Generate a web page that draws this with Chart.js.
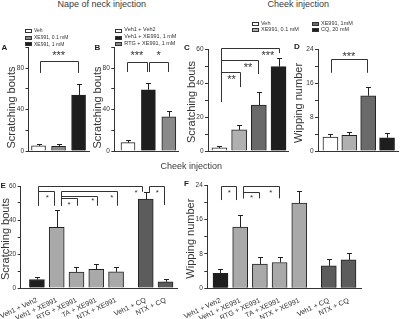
<!DOCTYPE html>
<html><head><meta charset="utf-8">
<script src="https://cdn.jsdelivr.net/npm/chart.js@4.4.1/dist/chart.umd.min.js"></script>
<style>
html,body{margin:0;padding:0;background:#fff;}
#wrap{position:relative;width:400px;height:319px;overflow:hidden;font-family:"Liberation Sans",Arial,sans-serif;color:#333;}
.t{position:absolute;white-space:nowrap;line-height:1;font-size:9px;color:#3a3a3a;}
.lt{position:absolute;white-space:nowrap;line-height:1;color:#333;}
.lb{position:absolute;box-sizing:border-box;border:1px solid #333;}
.L{position:absolute;font-weight:bold;font-size:8px;line-height:1;color:#222;}
</style></head>
<body><div id="wrap"></div>
<script>
// ---------- data ----------
const aLabels = ['Veh', 'XE991, 0.1 mM', 'XE991, 1 mM'];
const aValues = [5, 4.5, 54];
const aSem = [2, 2, 11];
const bLabels = ['Veh1 + Veh2', 'Veh1 + XE991, 1 mM', 'RTG + XE991, 1 mM'];
const bValues = [8, 59, 33];
const bSem = [3, 6.5, 5.5];
const cdLabels = ['Veh', 'XE991, 0.1 mM', 'XE991, 1mM', 'CQ, 20 mM'];
const cValues = [1.8, 12.4, 27, 49.6];
const cSem = [1, 3.1, 7.5, 5.4];
const dValues = [3.3, 3.7, 13, 3.1];
const dSem = [0.7, 0.8, 2, 1.2];
const efLabels = ['Veh1 + Veh2', 'Veh1 + XE991', 'RTG + XE991', 'TA + XE991', 'NTX + XE991', 'Veh1 + CQ', 'NTX + CQ'];
const efGroups = [0, 0, 0, 0, 0, 1, 1];
const eValues = [5, 35.7, 9.4, 11, 9.5, 52.3, 3.6];
const eSem = [1.7, 10.3, 3.1, 3, 3, 4.2, 1.6];
const fValues = [3.5, 14.2, 5.6, 6.0, 19.8, 5.2, 6.6];
const fSem = [0.9, 2.9, 1.6, 1.2, 2.9, 1.6, 1.6];
const abTicks = [0, 40, 80];
const ceTicks = [0, 20, 40, 60];
const dfTicks = [0, 8, 16, 24];

// ---------- styles ----------
const FONT = '"Liberation Sans", Arial, sans-serif';
Chart.defaults.font.family = FONT;
Chart.defaults.color = '#333';
const TICKFS = 6.5;
const WHITE = '#ffffff', BLACK = '#1e1e1e', MID = '#8a8a8a', LIGHT = '#b0b0b0', DARK = '#6a6a6a', LG = '#a9a9a9', DG = '#5c5c5c';
const aColors = [WHITE, MID, BLACK];
const bColors = [WHITE, BLACK, MID];
const cdColors = [WHITE, LIGHT, DARK, BLACK];
const efColors = [BLACK, LG, LG, LG, LG, DG, DG];

const wrap = document.getElementById('wrap');

function addText(cls, txt, x, y, extra) {
  const d = document.createElement('div');
  d.className = cls; d.textContent = txt;
  d.style.left = x + 'px'; d.style.top = y + 'px';
  if (extra) Object.assign(d.style, extra);
  wrap.appendChild(d);
  return d;
}
function centeredText(cls, txt, cx, y) {
  const d = addText(cls, txt, 0, y);
  d.style.left = (cx - d.offsetWidth / 2) + 'px';
}
function legend(labels, colors, bx, tx, ys, fs) {
  labels.forEach((lab, i) => {
    const b = document.createElement('div');
    b.className = 'lb';
    Object.assign(b.style, {left: bx[i] + 'px', top: (ys[i] - 2) + 'px', width: '7px', height: '4px', background: colors[i]});
    wrap.appendChild(b);
    addText('lt', lab, tx[i], ys[i] - fs * 0.55, {fontSize: fs + 'px'});
  });
}

function makePanel(p) {
  const bx = p.box;
  const cv = document.createElement('canvas');
  cv.width = bx.w; cv.height = bx.h;
  cv.style.cssText = `position:absolute;left:${bx.left}px;top:${bx.top}px;width:${bx.w}px;height:${bx.h}px`;
  wrap.appendChild(cv);
  const groups = p.groups || p.values.map(() => 0);
  const pos = i => i + groups[i] * 0.5;
  const positions = p.values.map((v, i) => pos(i));
  const snap = v => Math.round(v) + 0.5;

  const overlay = {
    id: 'overlay',
    afterDatasetsDraw(chart) {
      const ctx = chart.ctx, ys = chart.scales.y;
      const meta = chart.getDatasetMeta(0);
      ctx.save();
      ctx.strokeStyle = '#222'; ctx.lineWidth = 1;
      meta.data.forEach((bar, i) => {
        const x = snap(bar.x);
        const yTop = snap(ys.getPixelForValue(p.values[i] + p.sem[i]));
        const yBar = ys.getPixelForValue(p.values[i]);
        ctx.beginPath();
        ctx.moveTo(x, yBar); ctx.lineTo(x, yTop);
        ctx.moveTo(x - 2.5, yTop); ctx.lineTo(x + 2.5, yTop);
        ctx.stroke();
      });
      ctx.restore();
    },
    afterDraw(chart) {
      const ctx = chart.ctx, xs = chart.scales.x, ys = chart.scales.y;
      const px = a => xs.getPixelForValue(pos(a[0]) + a[1]);
      ctx.save();
      ctx.strokeStyle = '#333'; ctx.lineWidth = 1;
      p.brackets.forEach(b => {
        const x1 = snap(px(b.l)), x2 = snap(px(b.r));
        const y = snap(ys.getPixelForValue(b.y));
        ctx.beginPath();
        ctx.moveTo(x1, ys.getPixelForValue(b.dl)); ctx.lineTo(x1, y);
        ctx.lineTo(x2, y); ctx.lineTo(x2, ys.getPixelForValue(b.dr));
        ctx.stroke();
      });
      ctx.fillStyle = '#333';
      ctx.font = p.starSize + 'px ' + FONT;
      ctx.textAlign = 'center'; ctx.textBaseline = 'alphabetic';
      p.brackets.forEach(b => {
        ctx.fillText(b.s, px(b.sx), ys.getPixelForValue(b.sy) + 0.575 * p.starSize);
      });
      // y axis title
      ctx.font = '11px ' + FONT;
      ctx.textBaseline = 'middle';
      ctx.translate(chart.chartArea.left - p.titleOff, ys.getPixelForValue(p.titleMid) + p.titleDy);
      ctx.rotate(-Math.PI / 2);
      ctx.fillText(p.yTitle, 0, 0);
      ctx.restore();
    }
  };

  new Chart(cv, {
    type: 'bar',
    data: {
      datasets: [{
        data: p.values.map((v, i) => ({x: positions[i], y: v})),
        backgroundColor: p.colors,
        borderColor: '#222',
        borderWidth: 1,
        barThickness: p.bw
      }]
    },
    options: {
      responsive: false, animation: false, devicePixelRatio: 1,
      layout: {padding: {left: 0, right: bx.left + bx.w - bx.right, top: bx.topY - bx.top, bottom: 0}},
      plugins: {legend: {display: false}, tooltip: {enabled: false}, title: {display: false}},
      scales: {
        x: {
          type: 'linear', min: p.xmin, max: p.xmax, bounds: 'data', offset: false,
          afterFit: s => { s.height = bx.top + bx.h - bx.zeroY; },
          afterBuildTicks: s => { s.ticks = positions.map(v => ({value: v})); },
          grid: {display: false, offset: false},
          border: {display: true, color: '#333', width: 1},
          ticks: {
            display: !!p.xLabels, autoSkip: false, minRotation: 25, maxRotation: 25,
            font: {size: 7, family: FONT}, color: '#333', padding: 0,
            callback: (v, i) => p.xLabels ? p.xLabels[i] : ''
          }
        },
        y: {
          min: 0, max: p.ymax,
          afterFit: s => { s.width = bx.axisX - bx.left; },
          grid: {drawOnChartArea: false, drawTicks: true, tickLength: 3, color: '#333'},
          border: {display: true, color: '#333', width: 1},
          ticks: {
            stepSize: p.step, autoSkip: false, padding: 1.5,
            font: {size: TICKFS, family: FONT}, color: '#333',
            callback: v => p.yTicks.includes(v) ? String(v) : ''
          }
        }
      }
    },
    plugins: [overlay]
  });
}

// ---------- panels ----------
makePanel({
  box: {left: 0, top: 15, w: 92, h: 145, axisX: 28.5, right: 89, topY: 47.25, zeroY: 151},
  values: aValues, sem: aSem, colors: aColors, bw: 14, xmin: -0.5, xmax: 2.52,
  ymax: 100, step: 20, yTicks: abTicks, yTitle: 'Scratching bouts', titleOff: 17, titleMid: 40, titleDy: -2,
  starSize: 11,
  brackets: [{l: [0, 0.05], r: [2, -0.03], y: 86.7, dl: 75.2, dr: 75.2, s: '***', sx: [1, 0], sy: 94.5}]
});
makePanel({
  box: {left: 92, top: 15, w: 88, h: 145, axisX: 114.3, right: 178, topY: 47.25, zeroY: 151},
  values: bValues, sem: bSem, colors: bColors, bw: 14, xmin: -0.67, xmax: 2.45,
  ymax: 100, step: 20, yTicks: abTicks, yTitle: 'Scratching bouts', titleOff: 16, titleMid: 40, titleDy: -2,
  starSize: 11,
  brackets: [
    {l: [0, -0.05], r: [1, -0.07], y: 85.8, dl: 76.1, dr: 76.1, s: '***', sx: [0, 0.44], sy: 94.5},
    {l: [1, 0.03], r: [2, -0.04], y: 85.8, dl: 76.1, dr: 76.1, s: '*', sx: [1, 0.5], sy: 94.5}
  ]
});
makePanel({
  box: {left: 185, top: 15, w: 105, h: 145, axisX: 208, right: 288, topY: 49, zeroY: 151},
  values: cValues, sem: cSem, colors: cdColors, bw: 15, xmin: -0.58, xmax: 3.48,
  ymax: 60, step: 10, yTicks: ceTicks, yTitle: 'Scratching bouts', titleOff: 16, titleMid: 30, titleDy: 2,
  starSize: 11,
  brackets: [
    {l: [0, 0.08], r: [3, 0], y: 60.8, dl: 28.8, dr: 57.6, s: '***', sx: [2, 0.46], sy: 57.8},
    {l: [0, 0.08], r: [2, -0.05], y: 53.5, dl: 28.8, dr: 45.3, s: '**', sx: [1, 0.45], sy: 50.6},
    {l: [0, 0.08], r: [1, 0.05], y: 46.6, dl: 28.8, dr: 37.6, s: '**', sx: [0, 0.61], sy: 43.7}
  ]
});
makePanel({
  box: {left: 290, top: 15, w: 110, h: 145, axisX: 318, right: 398, topY: 49, zeroY: 151},
  values: dValues, sem: dSem, colors: cdColors, bw: 15, xmin: -0.66, xmax: 3.58,
  ymax: 24, step: 4, yTicks: dfTicks, yTitle: 'Wipping number', titleOff: 19, titleMid: 12, titleDy: 3,
  starSize: 11,
  brackets: [{l: [0, 0.03], r: [2, -0.08], y: 21.6, dl: 18.4, dr: 18.4, s: '***', sx: [0, 0.98], sy: 22.8}]
});
makePanel({
  box: {left: -6, top: 175, w: 188, h: 144, axisX: 20.7, right: 177, topY: 186, zeroY: 288},
  values: eValues, sem: eSem, colors: efColors, groups: efGroups, xLabels: efLabels, bw: 15,
  xmin: -0.82, xmax: 7.08,
  ymax: 60, step: 10, yTicks: ceTicks, yTitle: 'Scratching bouts', titleOff: 14.7, titleMid: 30, titleDy: 2,
  starSize: 8,
  brackets: [
    {l: [0, 0.07], r: [5, -0.2], y: 60.2, dl: 48.4, dr: 56.6, s: '*', sx: [5, -0.49], sy: 57.2},
    {l: [0, 0.07], r: [1, -0.14], y: 57.2, dl: 48.4, dr: 48.4, s: '*', sx: [0, 0.52], sy: 54.7},
    {l: [1, 0.2], r: [4, 0.03], y: 57.1, dl: 48.4, dr: 48.4, s: '*', sx: [3, 0.79], sy: 54.3},
    {l: [1, 0.2], r: [3, 0.02], y: 54.3, dl: 48.4, dr: 48.4, s: '*', sx: [2, 0.82], sy: 52.8},
    {l: [1, 0.2], r: [2, 0.01], y: 52.9, dl: 48.4, dr: 48.4, s: '*', sx: [1, 0.63], sy: 50.6},
    {l: [5, 0.17], r: [6, -0.06], y: 60.2, dl: 55.9, dr: 48.8, s: '*', sx: [5, 0.58], sy: 57.2}
  ]
});
makePanel({
  box: {left: 176, top: 175, w: 224, h: 144, axisX: 207.3, right: 361.7, topY: 185, zeroY: 288.3},
  values: fValues, sem: fSem, colors: efColors, groups: efGroups, xLabels: efLabels, bw: 15,
  xmin: -0.67, xmax: 7.17,
  ymax: 24, step: 4, yTicks: dfTicks, yTitle: 'Wipping number', titleOff: 16.6, titleMid: 12, titleDy: 2,
  starSize: 8,
  brackets: [
    {l: [0, 0.03], r: [1, -0.21], y: 23.84, dl: 20.5, dr: 20.5, s: '*', sx: [0, 0.45], sy: 22.8},
    {l: [1, 0.16], r: [3, -0.01], y: 23.84, dl: 20.9, dr: 20.9, s: '*', sx: [2, 0.56], sy: 22.8},
    {l: [1, 0.16], r: [2, -0.03], y: 22.44, dl: 20.9, dr: 20.9, s: '*', sx: [1, 0.58], sy: 21.5}
  ]
});

// ---------- titles, legends, letters ----------
centeredText('t', 'Nape of neck injection', 102, 0);
centeredText('t', 'Cheek injection', 298.5, 0);
centeredText('t', 'Cheek injection', 191.5, 161.5);

legend(aLabels, aColors, [25, 25, 25], [34, 34, 34], [30.5, 37.5, 44.3], 5);
legend(bLabels, bColors, [115, 115, 115], [124.3, 124.3, 124.3], [30.5, 37.5, 44.3], 5.5);
legend(cdLabels, cdColors, [252, 252, 312, 312], [261, 261, 321, 321], [24, 29.8, 24, 29.8], 5.5);

[['A', 1.5, 43.5], ['B', 94.5, 44], ['C', 184, 44], ['D', 294, 43], ['E', 0.5, 181.5], ['F', 184, 180]]
  .forEach(([s, x, y]) => addText('L', s, x, y));
</script>
</body></html>
